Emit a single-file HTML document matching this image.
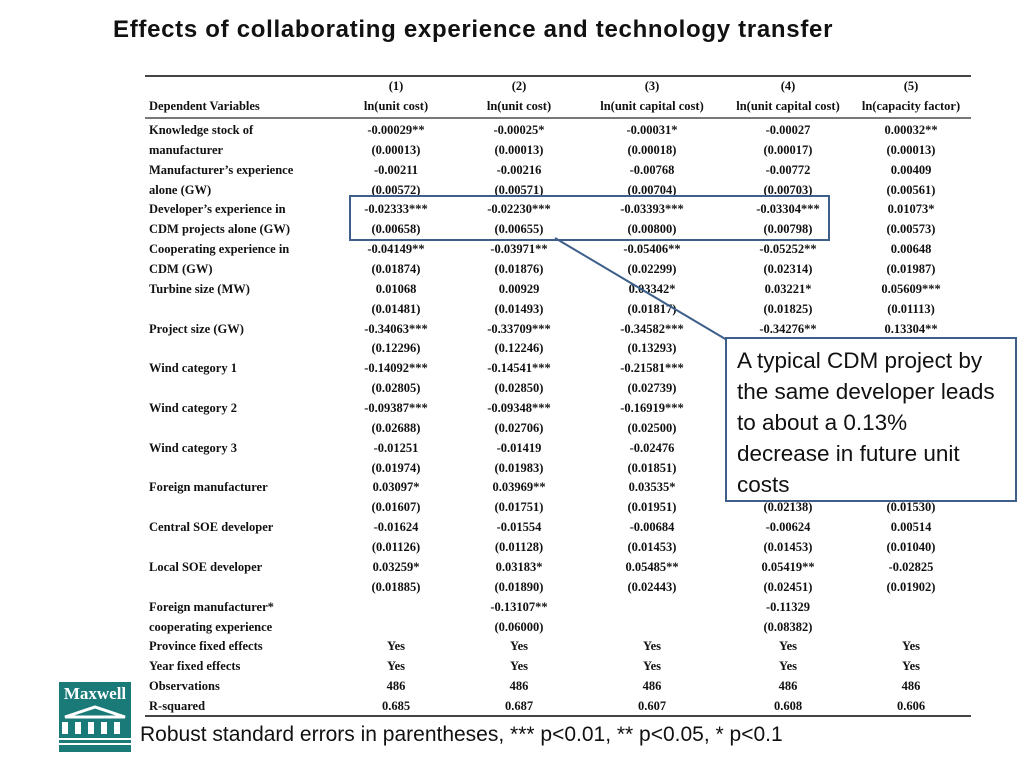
<!DOCTYPE html>
<html><head><meta charset="utf-8"><style>
body{margin:0;width:1024px;height:768px;background:#fff;position:relative;overflow:hidden;font-family:"Liberation Serif",serif}
.t{position:absolute;font-weight:bold;font-size:12.5px;color:#111;white-space:nowrap;line-height:14px}
.c{transform:translateX(-50%)}
.hl{position:absolute;background:#444}
</style></head><body>
<div style="position:absolute;left:113px;top:16px;font-family:'Liberation Sans',sans-serif;font-weight:bold;font-size:24px;letter-spacing:0.7px;color:#111;white-space:nowrap">Effects of collaborating experience and technology transfer</div>
<div class="hl" style="left:145px;top:75px;width:826px;height:2px"></div>
<div class="hl" style="left:145px;top:117px;width:826px;height:2px;background:#777"></div>
<div class="hl" style="left:145px;top:715px;width:826px;height:2px"></div>
<div id="tbl"></div>
<div style="position:absolute;left:349px;top:195px;width:477px;height:42px;border:2px solid #3d5f8a"></div>
<svg style="position:absolute;left:0;top:0" width="1024" height="768"><line x1="555" y1="238" x2="727" y2="340" stroke="#3d5f8a" stroke-width="2"/></svg>
<div style="position:absolute;left:725px;top:337px;width:278px;height:155px;border:2px solid #3d5f8a;background:#fff;padding:6px 0 0 10px;font-family:'Liberation Sans',sans-serif;font-size:22.5px;line-height:31px;color:#111;white-space:nowrap">A typical CDM project by<br>the same developer leads<br>to about a 0.13%<br>decrease in future unit<br>costs</div>
<div style="position:absolute;left:140px;top:723px;font-family:'Liberation Sans',sans-serif;font-size:21px;color:#111;white-space:nowrap">Robust standard errors in parentheses, *** p&lt;0.01, ** p&lt;0.05, * p&lt;0.1</div>
<div style="position:absolute;left:59px;top:682px;width:72px;height:70px;background:#1a7a78">
<div style="position:absolute;left:0;top:2px;width:72px;text-align:center;color:#fff;font-family:'Liberation Serif',serif;font-size:17px;font-weight:bold">Maxwell</div>
<svg width="72" height="70" style="position:absolute;left:0;top:0"><polygon points="6,35 36,25 66,35" fill="none" stroke="#fff" stroke-width="3"/><g fill="#fff"><rect x="3" y="40" width="6" height="12"/><rect x="16" y="40" width="6" height="12"/><rect x="29" y="40" width="6" height="12"/><rect x="42" y="40" width="6" height="12"/><rect x="55" y="40" width="6" height="12"/><rect x="0" y="56" width="72" height="2"/><rect x="0" y="61" width="72" height="2"/></g></svg></div>
<script>
const colHeadNum=["(1)","(2)","(3)","(4)","(5)"];
const colHeadVar=["ln(unit cost)","ln(unit cost)","ln(unit capital cost)","ln(unit capital cost)","ln(capacity factor)"];
const rowLabels=["Knowledge stock of","manufacturer","Manufacturer’s experience","alone (GW)","Developer’s experience in","CDM projects alone (GW)","Cooperating experience in","CDM (GW)","Turbine size (MW)","","Project size  (GW)","","Wind category 1","","Wind category 2","","Wind category 3","","Foreign manufacturer","","Central SOE developer","","Local SOE developer","","Foreign manufacturer*","cooperating experience","Province fixed effects","Year fixed effects","Observations","R-squared"];
const col1=["-0.00029**","(0.00013)","-0.00211","(0.00572)","-0.02333***","(0.00658)","-0.04149**","(0.01874)","0.01068","(0.01481)","-0.34063***","(0.12296)","-0.14092***","(0.02805)","-0.09387***","(0.02688)","-0.01251","(0.01974)","0.03097*","(0.01607)","-0.01624","(0.01126)","0.03259*","(0.01885)","","","Yes","Yes","486","0.685"];
const col2=["-0.00025*","(0.00013)","-0.00216","(0.00571)","-0.02230***","(0.00655)","-0.03971**","(0.01876)","0.00929","(0.01493)","-0.33709***","(0.12246)","-0.14541***","(0.02850)","-0.09348***","(0.02706)","-0.01419","(0.01983)","0.03969**","(0.01751)","-0.01554","(0.01128)","0.03183*","(0.01890)","-0.13107**","(0.06000)","Yes","Yes","486","0.687"];
const col3=["-0.00031*","(0.00018)","-0.00768","(0.00704)","-0.03393***","(0.00800)","-0.05406**","(0.02299)","0.03342*","(0.01817)","-0.34582***","(0.13293)","-0.21581***","(0.02739)","-0.16919***","(0.02500)","-0.02476","(0.01851)","0.03535*","(0.01951)","-0.00684","(0.01453)","0.05485**","(0.02443)","","","Yes","Yes","486","0.607"];
const col4=["-0.00027","(0.00017)","-0.00772","(0.00703)","-0.03304***","(0.00798)","-0.05252**","(0.02314)","0.03221*","(0.01825)","-0.34276**","(0.13300)","-0.21000***","(0.02740)","-0.16900***","(0.02500)","-0.02400","(0.01850)","0.04400**","(0.02138)","-0.00624","(0.01453)","0.05419**","(0.02451)","-0.11329","(0.08382)","Yes","Yes","486","0.608"];
const col5=["0.00032**","(0.00013)","0.00409","(0.00561)","0.01073*","(0.00573)","0.00648","(0.01987)","0.05609***","(0.01113)","0.13304**","(0.06000)","0.02000","(0.02000)","0.01500","(0.02000)","0.01000","(0.01500)","0.01200","(0.01530)","0.00514","(0.01040)","-0.02825","(0.01902)","","","Yes","Yes","486","0.606"];
const cols=[col1,col2,col3,col4,col5];
const colX=[396,519,652,788,911], y0=123, dy=19.86, labX=149;
const tbl=document.getElementById('tbl');
function put(txt,x,y,center,name){
  const d=document.createElement('div');
  d.className='t'+(center?' c':'');
  d.style.left=x+'px';d.style.top=y+'px';d.textContent=txt;
  
  
  tbl.appendChild(d);
}
put("Dependent Variables",labX,99,false,'header-dependent-variables');
colHeadNum.forEach((h,i)=>put(h,colX[i],79,true,'column-number'));
colHeadVar.forEach((h,i)=>put(h,colX[i],99,true,'column-variable'));
rowLabels.forEach((l,r)=>{ if(l) put(l,labX,y0+r*dy,false,'row-label'); });
cols.forEach((c,i)=>c.forEach((v,r)=>{ if(v) put(v,colX[i],y0+r*dy,true,'cell-value'); }));
</script>
</body></html>
